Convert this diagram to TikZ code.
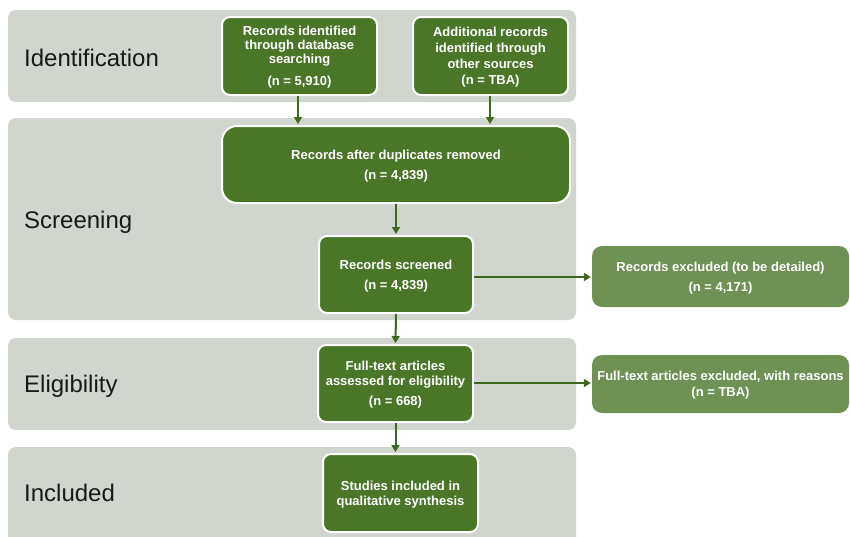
\documentclass[tikz,border=0pt]{standalone}
\usepackage{fontspec}
\setmainfont{Liberation Sans}
\usetikzlibrary{arrows.meta}
\definecolor{bandgray}{RGB}{208,213,206}
\definecolor{darkgreen}{RGB}{74,118,40}
\definecolor{lightgreen}{RGB}{111,145,83}
\definecolor{arrowgreen}{RGB}{62,104,34}
\begin{document}
\begin{tikzpicture}[x=1pt,y=-1pt,
  band/.style={fill=bandgray, rounded corners=8pt, minimum width=568pt, inner sep=0pt, draw=none},
  phase/.style={font=\fontsize{24}{28}\selectfont, anchor=base west, inner sep=0pt, text=black!90},
  boxtext/.style={text=white, align=center, inner sep=0pt, text depth=0pt, font=\fontsize{13}{15}\selectfont\bfseries},
  darkbox/.style={boxtext, fill=darkgreen, draw=white, line width=2pt, rounded corners=8pt, minimum width=155pt, minimum height=78pt},
  lightbox/.style={boxtext, fill=lightgreen, rounded corners=10pt, minimum width=257pt},
  flow/.style={draw=arrowgreen, line width=2pt, -{Triangle[length=7pt,width=8pt]}, shorten >=1pt}
]
\useasboundingbox (0,0) rectangle (850,536);
\clip (0,0) rectangle (850,536);
% bands
\node[band, minimum height=92pt]  (bid)  at (292,56) {};
\node[band, minimum height=202pt] (bscr) at (292,219) {};
\node[band, minimum height=92pt]  (bel)  at (292,384) {};
\node[band, minimum height=99pt]  (binc) at (292,496.5) {};
% phase labels
\node[phase] (lid)  at (24,66)  {Identification};
\node[phase] (lscr) at (24,228) {Screening};
\node[phase] (lel)  at (24,392) {Eligibility};
\node[phase] (linc) at (24,501) {Included};
% boxes
\node[darkbox] (b1) at (299.5,56) {Records identified\\[-1pt]through database\\[-1pt]searching\\[7pt](n = 5,910)};
\node[darkbox] (b2) at (490.5,56) {Additional records\\[1pt]identified through\\[1pt]other sources\\[1pt](n = TBA)};
\node[darkbox, minimum width=348pt, minimum height=77pt, rounded corners=15pt] (dup) at (396,164.5) {Records after duplicates removed\\[5pt](n = 4,839)};
\node[darkbox, minimum width=154pt, minimum height=77pt] (scr) at (396,274.5) {Records screened\\[5pt](n = 4,839)};
\node[darkbox, minimum height=77pt] (full) at (395.5,383.5) {Full-text articles\\assessed for eligibility\\[5pt](n = 668)};
\node[darkbox] (incl) at (400.5,493) {Studies included in\\qualitative synthesis};
\node[lightbox, minimum height=61pt] (exc1) at (720.5,276.5) {Records excluded (to be detailed)\\[5pt](n = 4,171)};
\node[lightbox, minimum height=58pt] (exc2) at (720.5,384) {Full-text articles excluded, with reasons\\[1pt](n = TBA)};
% connectors
\draw[flow] (b1.south -| 298,0) -- (298,0 |- dup.north);
\draw[flow] (b2.south -| 490,0) -- (490,0 |- dup.north);
\draw[flow] (dup.south) -- (scr.north);
\draw[flow] (scr.east |- 0,277) -- (exc1.west |- 0,277);
\draw[flow] (scr.south) -- (full.north);
\draw[flow] (full.east |- 0,383) -- (exc2.west |- 0,383);
\draw[flow] (full.south) -- (full.south |- incl.north);
\end{tikzpicture}
\end{document}
